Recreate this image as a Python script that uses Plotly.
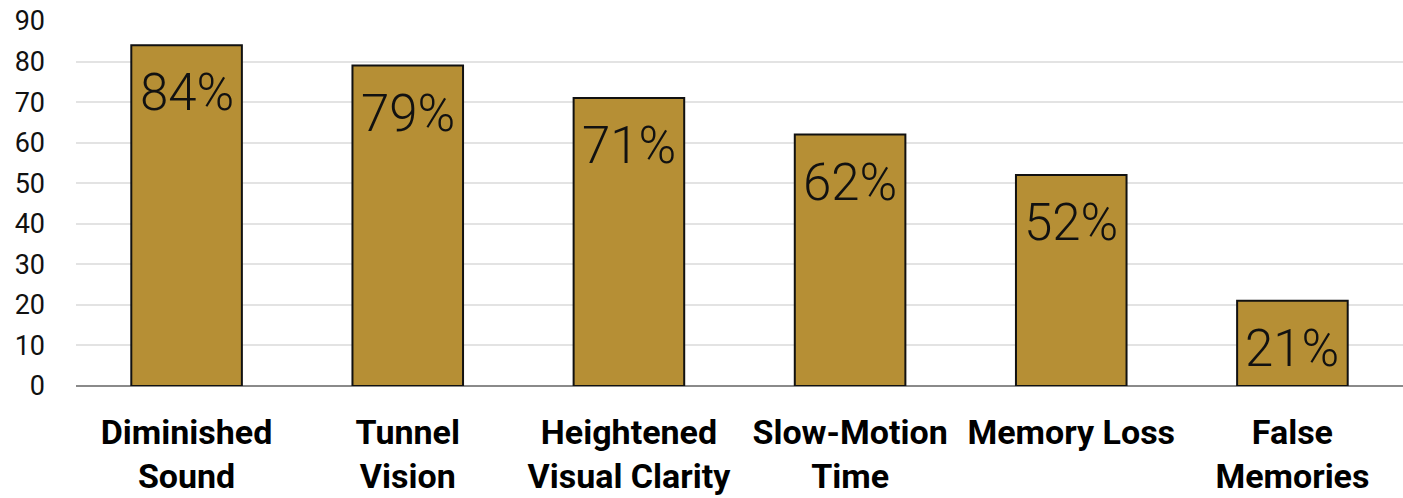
import plotly.graph_objects as go

categories = ["Diminished<br>Sound", "Tunnel<br>Vision", "Heightened<br>Visual Clarity",
              "Slow-Motion<br>Time", "Memory Loss", "False<br>Memories"]
values = [84, 79, 71, 62, 52, 21]
y_ticks = [0, 10, 20, 30, 40, 50, 60, 70, 80, 90]

fig = go.Figure(
    go.Bar(
        x=categories,
        y=values,
        width=0.5,
        marker=dict(color="#B68F35", line=dict(color="#111111", width=2)),
        hoverinfo="x+y",
    )
)

# percentage labels sitting just inside the top of each bar
for cat, val in zip(categories, values):
    fig.add_annotation(
        x=cat,
        y=val,
        text=f"{val}%",
        showarrow=False,
        yanchor="top",
        yshift=-16,
        font=dict(family="Roboto", size=51, color="#111111", weight=300),
    )

fig.update_layout(
    width=1403,
    height=498,
    margin=dict(l=76, r=0, t=21, b=112),
    plot_bgcolor="white",
    paper_bgcolor="white",
    showlegend=False,
    bargap=0.5,
)

fig.update_xaxes(
    tickfont=dict(family="Roboto", size=34, color="#000000", weight="bold"),
    ticks="outside",
    ticklen=16,
    tickcolor="rgba(0,0,0,0)",
    showgrid=False,
    showline=False,
    automargin=False,
)

fig.update_yaxes(
    range=[0, 90],
    tickvals=y_ticks,
    tickfont=dict(family="Roboto", size=27, color="#111111"),
    gridcolor="#e3e3e3",
    gridwidth=2,
    zeroline=True,
    zerolinecolor="#8a8a8a",
    zerolinewidth=2,
    ticklabelstandoff=30,
    automargin=False,
)

fig.write_html("out.html")
